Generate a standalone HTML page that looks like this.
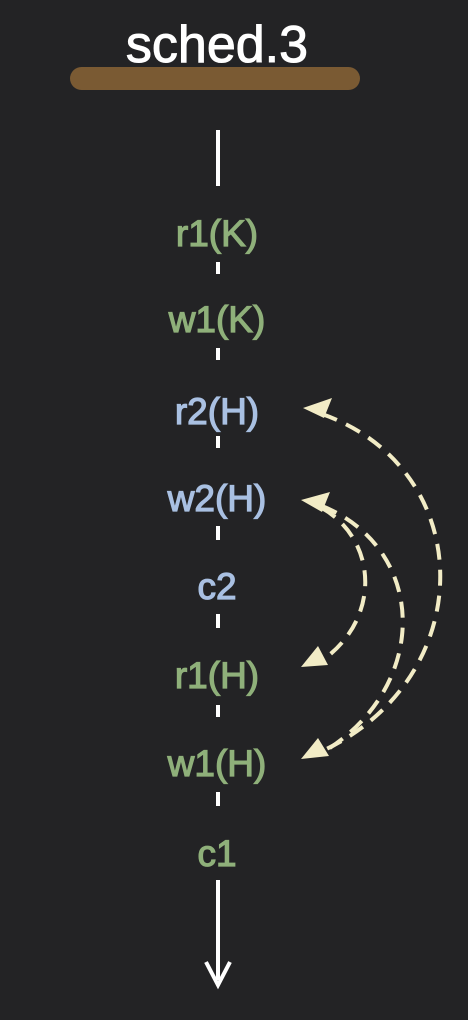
<!DOCTYPE html>
<html><head><style>
body{margin:0;background:#232325;}
svg{display:block}
text{font-family:"Liberation Sans","DejaVu Sans",sans-serif;text-anchor:middle;}
</style></head><body>
<svg width="468" height="1020" viewBox="0 0 468 1020">
<rect width="468" height="1020" fill="#232325"/>
<text x="217" y="62" font-size="52" fill="#ffffff" stroke="#ffffff" stroke-width="1">sched.3</text>
<rect x="70" y="67" width="290" height="23" rx="11.5" fill="#7a5a33"/>
<g stroke="#ffffff" stroke-width="4" fill="none">
<line x1="218" y1="130" x2="218" y2="186"/>
<line x1="218" y1="262" x2="218" y2="274"/>
<line x1="218" y1="348" x2="218" y2="360"/>
<line x1="218" y1="436" x2="218" y2="448"/>
<line x1="218" y1="526" x2="218" y2="540"/>
<line x1="218" y1="614" x2="218" y2="628"/>
<line x1="218" y1="705" x2="218" y2="717"/>
<line x1="218" y1="792" x2="218" y2="806"/>
<line x1="218" y1="880" x2="218" y2="980"/>
<path d="M206 962 L218 985 L230 962"/>
</g>
<g font-size="37" stroke-width="1.2">
<text x="217" y="246" fill="#8fb07a" stroke="#8fb07a">r1(K)</text>
<text x="217" y="332" fill="#8fb07a" stroke="#8fb07a">w1(K)</text>
<text x="217" y="424" fill="#a9c0e2" stroke="#a9c0e2">r2(H)</text>
<text x="217" y="511" fill="#a9c0e2" stroke="#a9c0e2">w2(H)</text>
<text x="217" y="599" fill="#a9c0e2" stroke="#a9c0e2">c2</text>
<text x="217" y="688" fill="#8fb07a" stroke="#8fb07a">r1(H)</text>
<text x="217" y="776" fill="#8fb07a" stroke="#8fb07a">w1(H)</text>
<text x="217" y="866" fill="#8fb07a" stroke="#8fb07a">c1</text>
</g>
<g stroke="#f2ecc6" stroke-width="4" fill="none" stroke-dasharray="16 10">
<path d="M322 414 C480 470 480 680 320 752"/>
<path d="M322 506 C430 550 430 690 320 754"/>
<path d="M322 508 C378 540 382 620 320 662"/>
</g>
<g fill="#f2ecc6">
<path d="M303 408 L332 398 L324 418 Z"/>
<path d="M301 500 L330 492 L322 512 Z"/>
<path d="M301 667 L318 646 L328 665 Z"/>
<path d="M301 759 L318 738 L329 756 Z"/>
</g>
</svg>
</body></html>
